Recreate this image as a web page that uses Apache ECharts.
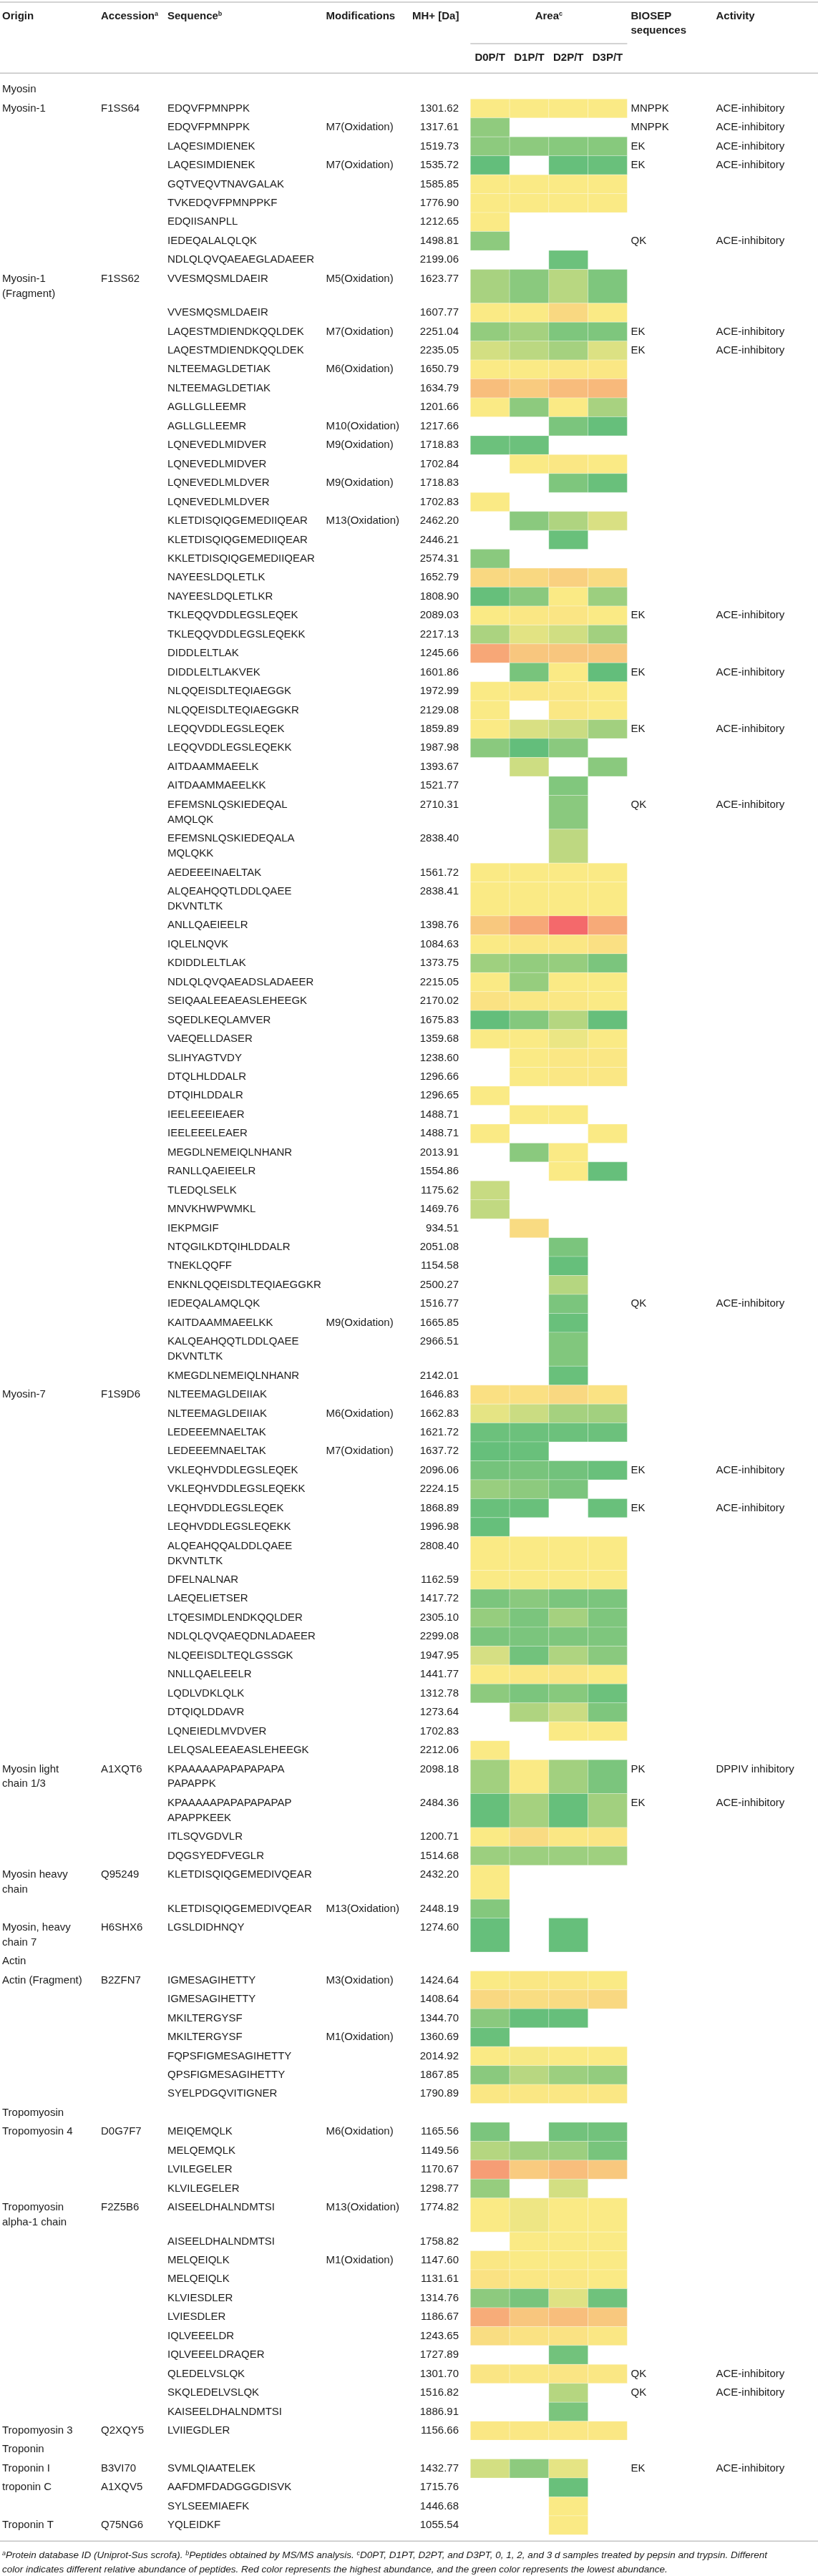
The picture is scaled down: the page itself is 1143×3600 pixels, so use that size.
<!DOCTYPE html>
<html>
<head>
<meta charset="utf-8">
<script src="https://cdn.jsdelivr.net/npm/echarts@6.0.0/dist/echarts.min.js"></script>
<style>
html,body{margin:0;padding:0;background:#fff;}
#chart{width:1143px;height:3600px;}
</style>
</head>
<body>
<div id="chart"></div>
<script>
// ================= DATA =================
const areaColumns = ['D0P/T', 'D1P/T', 'D2P/T', 'D3P/T'];

const proteinGroups = ['Myosin', 'Myosin', 'Myosin', 'Myosin', 'Myosin', 'Myosin',
  'Actin', 'Tropomyosin', 'Tropomyosin', 'Tropomyosin', 'Troponin', 'Troponin', 'Troponin'];
const proteinNames = ['Myosin-1', 'Myosin-1\n(Fragment)', 'Myosin-7', 'Myosin light\nchain 1/3',
  'Myosin heavy\nchain', 'Myosin, heavy\nchain 7', 'Actin (Fragment)', 'Tropomyosin 4',
  'Tropomyosin\nalpha-1 chain', 'Tropomyosin 3', 'Troponin I', 'troponin C', 'Troponin T'];
const accessions = ['F1SS64', 'F1SS62', 'F1S9D6', 'A1XQT6', 'Q95249', 'H6SHX6', 'B2ZFN7',
  'D0G7F7', 'F2Z5B6', 'Q2XQY5', 'B3VI70', 'A1XQV5', 'Q75NG6'];
const peptideCounts = [9, 55, 19, 4, 2, 1, 7, 4, 11, 1, 1, 2, 1];

const sequences = [
  // Myosin-1
  'EDQVFPMNPPK', 'EDQVFPMNPPK', 'LAQESIMDIENEK', 'LAQESIMDIENEK', 'GQTVEQVTNAVGALAK', 'TVKEDQVFPMNPPKF', 'EDQIISANPLL', 'IEDEQALALQLQK', 'NDLQLQVQAEAEGLADAEER',
  // Myosin-1 (Fragment)
  'VVESMQSMLDAEIR', 'VVESMQSMLDAEIR', 'LAQESTMDIENDKQQLDEK', 'LAQESTMDIENDKQQLDEK', 'NLTEEMAGLDETIAK', 'NLTEEMAGLDETIAK', 'AGLLGLLEEMR', 'AGLLGLLEEMR', 'LQNEVEDLMIDVER', 'LQNEVEDLMIDVER',
  'LQNEVEDLMLDVER', 'LQNEVEDLMLDVER', 'KLETDISQIQGEMEDIIQEAR', 'KLETDISQIQGEMEDIIQEAR', 'KKLETDISQIQGEMEDIIQEAR', 'NAYEESLDQLETLK', 'NAYEESLDQLETLKR', 'TKLEQQVDDLEGSLEQEK', 'TKLEQQVDDLEGSLEQEKK', 'DIDDLELTLAK',
  'DIDDLELTLAKVEK', 'NLQQEISDLTEQIAEGGK', 'NLQQEISDLTEQIAEGGKR', 'LEQQVDDLEGSLEQEK', 'LEQQVDDLEGSLEQEKK', 'AITDAAMMAEELK', 'AITDAAMMAEELKK', 'EFEMSNLQSKIEDEQAL\nAMQLQK', 'EFEMSNLQSKIEDEQALA\nMQLQKK', 'AEDEEEINAELTAK',
  'ALQEAHQQTLDDLQAEE\nDKVNTLTK', 'ANLLQAEIEELR', 'IQLELNQVK', 'KDIDDLELTLAK', 'NDLQLQVQAEADSLADAEER', 'SEIQAALEEAEASLEHEEGK', 'SQEDLKEQLAMVER', 'VAEQELLDASER', 'SLIHYAGTVDY', 'DTQLHLDDALR',
  'DTQIHLDDALR', 'IEELEEEIEAER', 'IEELEEELEAER', 'MEGDLNEMEIQLNHANR', 'RANLLQAEIEELR', 'TLEDQLSELK', 'MNVKHWPWMKL', 'IEKPMGIF', 'NTQGILKDTQIHLDDALR', 'TNEKLQQFF',
  'ENKNLQQEISDLTEQIAEGGKR', 'IEDEQALAMQLQK', 'KAITDAAMMAEELKK', 'KALQEAHQQTLDDLQAEE\nDKVNTLTK', 'KMEGDLNEMEIQLNHANR',
  // Myosin-7
  'NLTEEMAGLDEIIAK', 'NLTEEMAGLDEIIAK', 'LEDEEEMNAELTAK', 'LEDEEEMNAELTAK', 'VKLEQHVDDLEGSLEQEK', 'VKLEQHVDDLEGSLEQEKK', 'LEQHVDDLEGSLEQEK', 'LEQHVDDLEGSLEQEKK', 'ALQEAHQQALDDLQAEE\nDKVNTLTK', 'DFELNALNAR',
  'LAEQELIETSER', 'LTQESIMDLENDKQQLDER', 'NDLQLQVQAEQDNLADAEER', 'NLQEEISDLTEQLGSSGK', 'NNLLQAELEELR', 'LQDLVDKLQLK', 'DTQIQLDDAVR', 'LQNEIEDLMVDVER', 'LELQSALEEAEASLEHEEGK',
  // Myosin light chain 1/3
  'KPAAAAAPAPAPAPAPA\nPAPAPPK', 'KPAAAAAPAPAPAPAPAP\nAPAPPKEEK', 'ITLSQVGDVLR', 'DQGSYEDFVEGLR',
  // Myosin heavy chain
  'KLETDISQIQGEMEDIVQEAR', 'KLETDISQIQGEMEDIVQEAR',
  // Myosin, heavy chain 7
  'LGSLDIDHNQY',
  // Actin (Fragment)
  'IGMESAGIHETTY', 'IGMESAGIHETTY', 'MKILTERGYSF', 'MKILTERGYSF', 'FQPSFIGMESAGIHETTY', 'QPSFIGMESAGIHETTY', 'SYELPDGQVITIGNER',
  // Tropomyosin 4
  'MEIQEMQLK', 'MELQEMQLK', 'LVILEGELER', 'KLVILEGELER',
  // Tropomyosin alpha-1 chain
  'AISEELDHALNDMTSI', 'AISEELDHALNDMTSI', 'MELQEIQLK', 'MELQEIQLK', 'KLVIESDLER', 'LVIESDLER', 'IQLVEEELDR', 'IQLVEEELDRAQER', 'QLEDELVSLQK', 'SKQLEDELVSLQK', 'KAISEELDHALNDMTSI',
  // Tropomyosin 3
  'LVIIEGDLER',
  // Troponin I
  'SVMLQIAATELEK',
  // troponin C
  'AAFDMFDADGGGDISVK', 'SYLSEEMIAEFK',
  // Troponin T
  'YQLEIDKF'
];

const modifications = [
  '', 'M7(Oxidation)', '', 'M7(Oxidation)', '', '', '', '', '',
  'M5(Oxidation)', '', 'M7(Oxidation)', '', 'M6(Oxidation)', '', '', 'M10(Oxidation)', 'M9(Oxidation)', '',
  'M9(Oxidation)', '', 'M13(Oxidation)', '', '', '', '', '', '', '',
  '', '', '', '', '', '', '', '', '', '',
  '', '', '', '', '', '', '', '', '', '',
  '', '', '', '', '', '', '', '', '', '',
  '', '', 'M9(Oxidation)', '', '',
  '', 'M6(Oxidation)', '', 'M7(Oxidation)', '', '', '', '', '', '',
  '', '', '', '', '', '', '', '', '',
  '', '', '', '',
  '', 'M13(Oxidation)',
  '',
  'M3(Oxidation)', '', '', 'M1(Oxidation)', '', '', '',
  'M6(Oxidation)', '', '', '',
  'M13(Oxidation)', '', 'M1(Oxidation)', '', '', '', '', '', '', '', '',
  '',
  '',
  '', '',
  ''
];

const massesMH = [
  1301.62, 1317.61, 1519.73, 1535.72, 1585.85, 1776.90, 1212.65, 1498.81, 2199.06,
  1623.77, 1607.77, 2251.04, 2235.05, 1650.79, 1634.79, 1201.66, 1217.66, 1718.83, 1702.84,
  1718.83, 1702.83, 2462.20, 2446.21, 2574.31, 1652.79, 1808.90, 2089.03, 2217.13, 1245.66,
  1601.86, 1972.99, 2129.08, 1859.89, 1987.98, 1393.67, 1521.77, 2710.31, 2838.40, 1561.72,
  2838.41, 1398.76, 1084.63, 1373.75, 2215.05, 2170.02, 1675.83, 1359.68, 1238.60, 1296.66,
  1296.65, 1488.71, 1488.71, 2013.91, 1554.86, 1175.62, 1469.76, 934.51, 2051.08, 1154.58,
  2500.27, 1516.77, 1665.85, 2966.51, 2142.01,
  1646.83, 1662.83, 1621.72, 1637.72, 2096.06, 2224.15, 1868.89, 1996.98, 2808.40, 1162.59,
  1417.72, 2305.10, 2299.08, 1947.95, 1441.77, 1312.78, 1273.64, 1702.83, 2212.06,
  2098.18, 2484.36, 1200.71, 1514.68,
  2432.20, 2448.19,
  1274.60,
  1424.64, 1408.64, 1344.70, 1360.69, 2014.92, 1867.85, 1790.89,
  1165.56, 1149.56, 1170.67, 1298.77,
  1774.82, 1758.82, 1147.60, 1131.61, 1314.76, 1186.67, 1243.65, 1727.89, 1301.70, 1516.82, 1886.91,
  1156.66,
  1432.77,
  1715.76, 1446.68,
  1055.54
];

// Relative abundance level (0 = lowest/green, 50 = yellow, 100 = highest/red);
// null = peptide not detected in that sample. Order: D0P/T, D1P/T, D2P/T, D3P/T.
const areaLevels = [
  [50,50,50,50],[15,null,null,null],[14,14,12,12],[0,null,1,2],[50,50,50,50],[50,50,50,50],[50,null,null,null],[14,null,null,null],[null,null,3,null],
  [23,13,28,9],[50,50,57,50],[16,22,9,9],[37,29,22,40],[50,50,51,51],[67,62,68,69],[50,14,50,23],[null,null,8,1],[3,3,null,null],[null,50,51,50],
  [null,null,9,2],[50,null,null,null],[null,13,25,39],[null,null,2,null],[13,null,null,null],[57,57,60,56],[1,13,50,19],[50,51,52,50],[24,42,36,21],[76,64,64,63],
  [null,7,50,0],[50,51,51,50],[50,null,51,50],[50,39,34,21],[13,0,13,null],[null,35,null,13],[null,null,10,null],[null,null,13,null],[null,null,30,null],[50,50,50,50],
  [50,50,50,50],[63,76,100,75],[50,51,51,54],[20,16,17,8],[50,17,50,50],[53,51,51,50],[0,11,27,1],[50,50,45,50],[null,50,51,51],[null,50,51,51],
  [50,null,null,null],[null,50,50,null],[50,null,null,50],[null,13,50,null],[null,null,50,1],[33,null,null,null],[31,null,null,null],[null,56,null,null],[null,null,8,null],[null,null,1,null],
  [null,null,27,null],[null,null,8,null],[null,null,2,null],[null,null,10,null],[null,null,2,null],
  [54,54,57,53],[43,34,22,21],[3,3,3,3],[1,2,null,null],[6,7,5,2],[18,14,8,null],[2,2,null,2],[1,null,null,null],[50,50,50,50],[50,50,50,50],
  [8,13,8,8],[17,8,22,9],[8,8,9,9],[38,5,25,13],[50,51,52,50],[14,8,12,3],[null,25,34,9],[null,null,50,50],[50,null,null,null],
  [21,50,21,8],[1,22,1,21],[50,56,51,52],[19,19,19,20],
  [50,null,null,null],[11,null,null,null],
  [1,null,1,null],
  [50,51,51,50],[57,55,56,57],[13,1,1,null],[2,null,null,null],[50,49,50,50],[13,28,19,16],[51,51,51,51],
  [8,null,5,5],[27,21,19,7],[80,62,67,63],[17,null,37,null],
  [50,46,50,50],[null,50,50,50],[51,50,50,50],[53,51,51,50],[14,7,41,4],[74,64,67,63],[55,53,53,51],[null,null,5,null],[52,51,52,51],[null,null,27,null],[null,null,8,null],
  [51,51,51,51],
  [37,14,43,null],
  [null,null,2,null],[null,null,50,null],
  [null,null,50,null]
];

const biosepSequences = [
  'MNPPK', 'MNPPK', 'EK', 'EK', '', '', '', 'QK', '',
  '', '', 'EK', 'EK', '', '', '', '', '', '',
  '', '', '', '', '', '', '', 'EK', '', '',
  'EK', '', '', 'EK', '', '', '', 'QK', '', '',
  '', '', '', '', '', '', '', '', '', '',
  '', '', '', '', '', '', '', '', '', '',
  '', 'QK', '', '', '',
  '', '', '', '', 'EK', '', 'EK', '', '', '',
  '', '', '', '', '', '', '', '', '',
  'PK', 'EK', '', '',
  '', '',
  '',
  '', '', '', '', '', '', '',
  '', '', '', '',
  '', '', '', '', '', '', '', '', 'QK', 'QK', '',
  '',
  'EK',
  '', '',
  ''
];

const ACE = 'ACE-inhibitory';
const DPPIV = 'DPPIV inhibitory';
const activities = [
  ACE, ACE, ACE, ACE, '', '', '', ACE, '',
  '', '', ACE, ACE, '', '', '', '', '', '',
  '', '', '', '', '', '', '', ACE, '', '',
  ACE, '', '', ACE, '', '', '', ACE, '', '',
  '', '', '', '', '', '', '', '', '', '',
  '', '', '', '', '', '', '', '', '', '',
  '', ACE, '', '', '',
  '', '', '', '', ACE, '', ACE, '', '', '',
  '', '', '', '', '', '', '', '', '',
  DPPIV, ACE, '', '',
  '', '',
  '',
  '', '', '', '', '', '', '',
  '', '', '', '',
  '', '', '', '', '', '', '', '', ACE, ACE, '',
  '',
  ACE,
  '', '',
  ''
];

// ================= LAYOUT =================
const FONT = '"Liberation Sans", Arial, Helvetica, sans-serif';
const TEXT_COLOR = '#1c1c1c';
const RULE_COLOR = '#c4c4c4';
const GRID_TOP = 111.9;
const LINE_H = 20.91;
const ROW_PAD = 5.54;
const FIRST_LINE_OFFSET = (ROW_PAD) / 2;
const CELL_LEFT = 657.3, CELL_WIDTH = 219.1;
const COL_X = { origin: 3, accession: 141, sequence: 234, modification: 455.5, massRight: 641, biosep: 881.5, activity: 1000.5 };

const rows = [];
(function buildRows() {
  let prevGroup = null, p = 0;
  proteinNames.forEach(function (name, i) {
    if (proteinGroups[i] !== prevGroup) {
      rows.push({ origin: proteinGroups[i], acc: '', pep: -1 });
      prevGroup = proteinGroups[i];
    }
    for (let k = 0; k < peptideCounts[i]; k++) {
      rows.push({ origin: k === 0 ? name : '', acc: k === 0 ? accessions[i] : '', pep: p++ });
    }
  });
  let y = 0;
  rows.forEach(function (r) {
    const nl = function (s) { return s ? s.split('\n').length : 1; };
    const lines = Math.max(nl(r.origin), r.pep >= 0 ? nl(sequences[r.pep]) : 1);
    r.top = y;
    r.h = ROW_PAD + lines * LINE_H;
    y += r.h;
  });
})();
const TABLE_H = rows.reduce(function (s, r) { return s + r.h; }, 0);

const cellData = [];
rows.forEach(function (r) {
  if (r.pep < 0) return;
  areaLevels[r.pep].forEach(function (v, c) {
    if (v !== null) cellData.push([c, r.top, v, r.top + r.h]);
  });
});
const rowData = rows.map(function (r) { return [0, r.top]; });

function renderCell(params, api) {
  const c = api.value(0);
  const p1 = api.coord([c, api.value(1)]);
  const p2 = api.coord([c, api.value(3)]);
  const bw = api.size([1, 0])[0];
  return {
    type: 'rect',
    shape: { x: p1[0] - bw / 2, y: p1[1], width: bw, height: p2[1] - p1[1] },
    style: { fill: api.visual('color'), stroke: 'rgba(255,255,255,0.35)', lineWidth: 0.8 }
  };
}

function renderRowText(params, api) {
  const r = rows[params.dataIndex];
  const y = api.coord([0, r.top])[1] + FIRST_LINE_OFFSET;
  const kids = [];
  function put(text, x, align) {
    if (!text) return;
    kids.push({
      type: 'text', x: x, y: y, silent: true,
      style: { text: text, fill: TEXT_COLOR, fontFamily: FONT, fontSize: 15,
        align: align || 'left', verticalAlign: 'top', lineHeight: LINE_H }
    });
  }
  put(r.origin, COL_X.origin);
  if (r.pep >= 0) {
    put(r.acc, COL_X.accession);
    put(sequences[r.pep], COL_X.sequence);
    put(modifications[r.pep], COL_X.modification);
    put(massesMH[r.pep].toFixed(2), COL_X.massRight, 'right');
    put(biosepSequences[r.pep], COL_X.biosep);
    put(activities[r.pep], COL_X.activity);
  }
  return { type: 'group', children: kids };
}

function gText(text, x, y, opts) {
  opts = opts || {};
  return {
    type: 'text', x: x, y: y, silent: true,
    style: Object.assign({
      text: text, fill: TEXT_COLOR, fontFamily: FONT, fontSize: 15, fontWeight: 'bold',
      align: opts.align || 'left', textAlign: opts.align || 'left',
      verticalAlign: 'middle', textVerticalAlign: 'middle',
      rich: { sup: { fontFamily: FONT, fontSize: 9, fontWeight: 'bold', fill: TEXT_COLOR, verticalAlign: 'top', lineHeight: 9 } }
    }, opts.style || {})
  };
}
function gLine(x1, y1, x2, y2, w) {
  return { type: 'line', silent: true, shape: { x1: x1, y1: y1, x2: x2, y2: y2 }, style: { stroke: RULE_COLOR, lineWidth: w || 1.5 } };
}

const footRich = { s: { fontFamily: FONT, fontSize: 9, fontStyle: 'italic', fill: TEXT_COLOR, verticalAlign: 'top', lineHeight: 9 } };
const footStyle = { fontWeight: 'normal', fontStyle: 'italic', fontSize: 13.5, rich: footRich };

const chart = echarts.init(document.getElementById('chart'), null, { renderer: 'canvas' });
chart.setOption({
  animation: false,
  backgroundColor: '#ffffff',
  grid: { left: CELL_LEFT, top: GRID_TOP, width: CELL_WIDTH, height: TABLE_H, containLabel: false, outerBoundsMode: 'none' },
  xAxis: {
    type: 'category', data: areaColumns, position: 'top',
    axisLine: { show: false }, axisTick: { show: false }, splitLine: { show: false },
    axisLabel: { interval: 0, hideOverlap: false, margin: 24, color: TEXT_COLOR, fontFamily: FONT, fontSize: 15, fontWeight: 'bold' }
  },
  yAxis: { type: 'value', min: 0, max: TABLE_H, inverse: true, show: false },
  visualMap: {
    type: 'continuous', show: false, min: 0, max: 100, dimension: 2, seriesIndex: 0,
    inRange: { color: ['#63BE7B', '#FAEA85', '#F4696B'] }
  },
  series: [
    { type: 'custom', name: 'Area', renderItem: renderCell, data: cellData, encode: { x: 0, y: 1 }, clip: false, z: 2 },
    { type: 'custom', name: 'Rows', renderItem: renderRowText, data: rowData, encode: { x: 0, y: 1 }, clip: false, z: 3 }
  ],
  graphic: [
    gLine(0, 3, 1143, 3, 1.5),
    gText('Origin', COL_X.origin, 22.7),
    gText('Accession{sup|a}', COL_X.accession, 22.7),
    gText('Sequence{sup|b}', COL_X.sequence, 22.7),
    gText('Modifications', COL_X.modification, 22.7),
    gText('MH+ [Da]', 576, 22.7),
    gText('Area{sup|c}', CELL_LEFT + CELL_WIDTH / 2, 22.7, { align: 'center' }),
    gText('BIOSEP', COL_X.biosep, 22.7),
    gText('sequences', COL_X.biosep, 43.3),
    gText('Activity', COL_X.activity, 22.7),
    gLine(CELL_LEFT, 61, CELL_LEFT + CELL_WIDTH, 61, 1.5),
    gLine(0, 102.3, 1143, 102.3, 1.5),
    gLine(0, GRID_TOP + TABLE_H + 9, 1143, GRID_TOP + TABLE_H + 9, 1.5),
    gText('{s|a}Protein database ID (Uniprot-Sus scrofa). {s|b}Peptides obtained by MS/MS analysis. {s|c}D0PT, D1PT, D2PT, and D3PT, 0, 1, 2, and 3 d samples treated by pepsin and trypsin. Different',
      3, GRID_TOP + TABLE_H + 29, { style: footStyle }),
    gText('color indicates different relative abundance of peptides. Red color represents the highest abundance, and the green color represents the lowest abundance.',
      3, GRID_TOP + TABLE_H + 49, { style: footStyle })
  ]
});
</script>
</body>
</html>
